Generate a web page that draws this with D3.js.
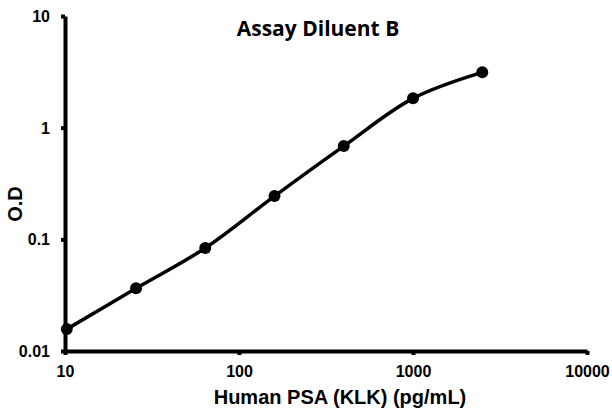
<!DOCTYPE html>
<html>
<head>
<meta charset="utf-8">
<script src="https://cdn.jsdelivr.net/npm/d3@7"></script>
<style>
  body { margin: 0; background: #fff; }
  text { font-family: "Liberation Sans", Arial, sans-serif; font-weight: bold; fill: #000; }
</style>
</head>
<body>
<script>
// concentration (pg/mL) and measured O.D
var concentrations = [10.24, 25.6, 64, 160, 400, 1000, 2500];
var odValues = [0.0157, 0.0364, 0.0836, 0.244, 0.684, 1.83, 3.13];
var xTicks = [10, 100, 1000, 10000];
var yTicks = [0.01, 0.1, 1, 10];

var width = 612,
    height = 412;

var margin = {left: 65, right: 25, top: 16, bottom: 61};

var svg = d3.select('body')
  .append('svg')
  .attr('width', width)
  .attr('height', height);

var x = d3.scaleLog()
  .domain([10, 10000])
  .range([margin.left, width - margin.right]);

var y = d3.scaleLog()
  .domain([0.01, 10])
  .range([height - margin.bottom, margin.top]);

// x axis
var xAxis = svg.append('g')
  .attr('transform', 'translate(0,' + y(0.01) + ')')
  .call(d3.axisBottom(x).tickValues(xTicks).tickFormat(d3.format('d')).tickSize(4).tickSizeOuter(0));

// y axis
var yAxis = svg.append('g')
  .attr('transform', 'translate(' + x(10) + ',0)')
  .call(d3.axisLeft(y).tickValues(yTicks).tickFormat(function(d) { return d < 1 ? String(d) : d3.format('d')(d); }).tickSize(4).tickSizeOuter(0));

[xAxis, yAxis].forEach(function(a) {
  a.select('.domain').style('stroke', '#000').style('stroke-width', '4px');
  a.selectAll('.tick line').style('stroke', '#000').style('stroke-width', '4px');
  a.selectAll('.tick text').style('font-size', '16px').style('font-family', '"Liberation Sans", Arial, sans-serif').attr('fill', '#000');
});
xAxis.selectAll('.tick text').attr('dy', null).attr('y', 26);
yAxis.selectAll('.tick text').attr('x', -15).attr('dy', '0.35em');

// data
var data = concentrations.map(function(c, i) { return {x: c, y: odValues[i]}; });

var line = d3.line()
  .x(function(d) { return x(d.x); })
  .y(function(d) { return y(d.y); })
  .curve(d3.curveCatmullRom.alpha(0.5));

svg.append('path')
  .datum(data)
  .attr('d', line)
  .attr('fill', 'none')
  .attr('stroke', '#000')
  .attr('stroke-width', 3.5);

svg.append('g')
  .selectAll('circle')
  .data(data)
  .enter()
  .append('circle')
  .attr('cx', function(d) { return x(d.x); })
  .attr('cy', function(d) { return y(d.y); })
  .attr('r', 6)
  .attr('fill', '#000');

// title and labels
svg.append('text')
  .attr('x', 318)
  .attr('y', 36)
  .attr('text-anchor', 'middle')
  .style('font-family', '"Open Sans", sans-serif')
  .style('font-size', '21px')
  .text('Assay Diluent B');

svg.append('text')
  .attr('transform', 'translate(22,204) rotate(-90)')
  .attr('text-anchor', 'middle')
  .style('font-size', '20px')
  .text('O.D');

svg.append('text')
  .attr('x', 340)
  .attr('y', 404)
  .attr('text-anchor', 'middle')
  .style('font-size', '20px')
  .text('Human PSA (KLK) (pg/mL)');
</script>
</body>
</html>
